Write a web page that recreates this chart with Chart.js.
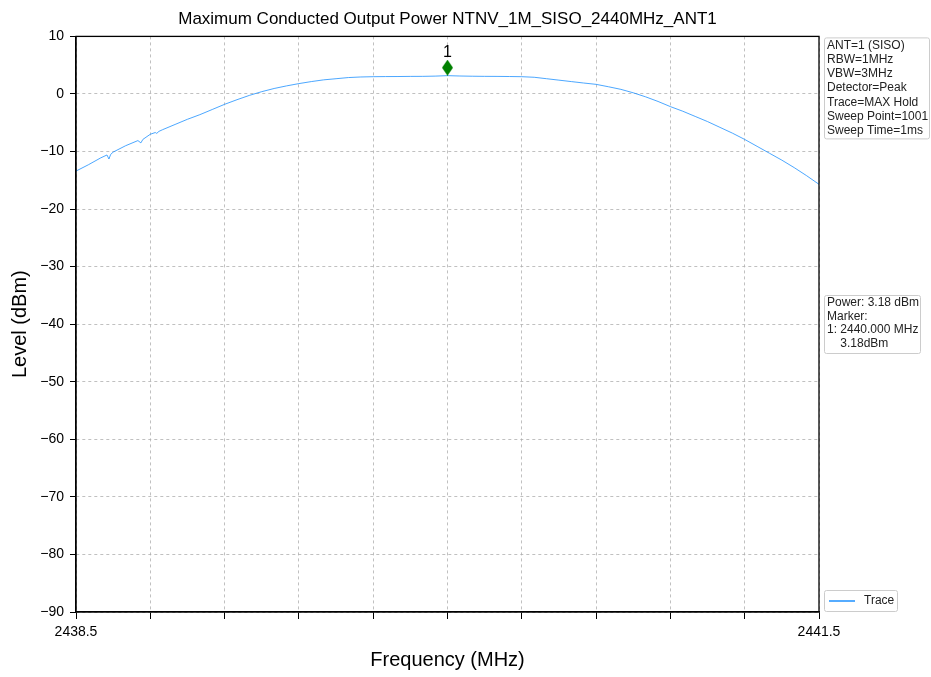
<!DOCTYPE html>
<html>
<head>
<meta charset="utf-8">
<title>Maximum Conducted Output Power</title>
<script src="https://cdn.jsdelivr.net/npm/chart.js@4.4.1/dist/chart.umd.min.js"></script>
<style>
  html, body { margin: 0; padding: 0; background: #fff; }
  #wrap { width: 931px; height: 677px; position: relative; }
</style>
</head>
<body>
<div id="wrap"><canvas id="myChart"></canvas></div>
<script>
// DATA

const freqMHz = [
  2438.5, 2438.55, 2438.6, 2438.625, 2438.633, 2438.64, 2438.65, 2438.7, 2438.75, 2438.762,
  2438.77, 2438.8, 2438.82, 2438.826, 2438.835, 2438.85, 2438.9, 2438.95, 2439.0, 2439.05,
  2439.1, 2439.15, 2439.2, 2439.25, 2439.3, 2439.35, 2439.4, 2439.45, 2439.5, 2439.55,
  2439.6, 2439.65, 2439.7, 2439.75, 2439.8, 2439.85, 2439.9, 2439.95, 2440.0, 2440.05,
  2440.1, 2440.15, 2440.2, 2440.25, 2440.3, 2440.35, 2440.4, 2440.45, 2440.5, 2440.55,
  2440.6, 2440.65, 2440.7, 2440.75, 2440.8, 2440.85, 2440.9, 2440.95, 2441.0, 2441.05,
  2441.1, 2441.15, 2441.2, 2441.25, 2441.3, 2441.35, 2441.4, 2441.45, 2441.5
];

const levelDbm = [
  -13.4, -12.3, -11.1, -10.6, -11.3, -10.5, -10.1, -9.0, -8.1, -8.5,
  -7.9, -7.0, -6.7, -6.85, -6.5, -6.2, -5.3, -4.4, -3.6, -2.7,
  -1.8, -1.0, -0.25, 0.4, 0.95, 1.4, 1.8, 2.15, 2.45, 2.65,
  2.85, 2.95, 3.0, 3.02, 3.03, 3.05, 3.06, 3.1, 3.18, 3.12,
  3.08, 3.06, 3.05, 3.03, 3.0, 2.9, 2.65, 2.4, 2.15, 1.9,
  1.67, 1.25, 0.8, 0.2, -0.5, -1.3, -2.2, -3.0, -3.9, -4.8,
  -5.8, -6.8, -7.9, -9.1, -10.3, -11.5, -12.8, -14.2, -15.7
];

const markerFreq = [2440.0];
const markerLevel = [4.57];
const markerLabels = ["1"];

const xTicks = [2438.5, 2438.8, 2439.1, 2439.4, 2439.7, 2440.0, 2440.3, 2440.6, 2440.9, 2441.2, 2441.5];

const infoLines = [
  "ANT=1 (SISO)",
  "RBW=1MHz",
  "VBW=3MHz",
  "Detector=Peak",
  "Trace=MAX Hold",
  "Sweep Point=1001",
  "Sweep Time=1ms"
];

const powerLines = [
  "Power: 3.18 dBm",
  "Marker:",
  "1: 2440.000 MHz",
  "    3.18dBm"
];

const chartTitle = "Maximum Conducted Output Power NTNV_1M_SISO_2440MHz_ANT1";
const legendLabel = "Trace";

const FONT = "'Liberation Sans', Arial, sans-serif";
const traceColor = "#1e90ff";

//MARKER SHAPE (tall diamond)

function makeDiamond(w, h, color) {
  const c = document.createElement("canvas");
  c.width = w;
  c.height = h;
  const g = c.getContext("2d");
  g.fillStyle = color;
  g.beginPath();
  g.moveTo(w / 2, 0);
  g.lineTo(w, h / 2);
  g.lineTo(w / 2, h);
  g.lineTo(0, h / 2);
  g.closePath();
  g.fill();
  return c;
}

//SIDE BOXES + FRAME

function drawBox(ctx, x, y, w, h, lines, lineGap) {
  ctx.save();
  ctx.fillStyle = "#fff";
  ctx.strokeStyle = "#cccccc";
  ctx.lineWidth = 1;
  ctx.beginPath();
  ctx.roundRect(x + 0.5, y + 0.5, w, h, 2);
  ctx.fill();
  ctx.stroke();
  ctx.fillStyle = "#222";
  ctx.font = "12px " + FONT;
  ctx.textBaseline = "middle";
  lines.forEach((t, i) => {
    ctx.fillText(t, x + 3, y + 8 + i * lineGap);
  });
  ctx.restore();
}

const extras = {
  id: "extras",
  afterDatasetsDraw(chart) {
    const ctx = chart.ctx;
    const xs = chart.scales.x;
    const ys = chart.scales.y;
    ctx.save();
    ctx.fillStyle = "#000";
    ctx.font = "16px " + FONT;
    ctx.textAlign = "center";
    ctx.textBaseline = "middle";
    markerLabels.forEach((t, i) => {
      ctx.fillText(t, xs.getPixelForValue(markerFreq[i]), ys.getPixelForValue(markerLevel[i]) - 15);
    });
    ctx.restore();
  },
  afterDraw(chart) {
    const ctx = chart.ctx;
    const a = chart.chartArea;
    ctx.save();
    ctx.strokeStyle = "#000";
    ctx.lineWidth = 1.3;
    ctx.strokeRect(a.left, a.top, a.right - a.left, a.bottom - a.top);
    ctx.restore();

    const bx = a.right + 5;
    drawBox(ctx, bx, a.top + 1, 105, 101, infoLines, 14.2);
    drawBox(ctx, bx, 295, 96, 58, powerLines, 13.5);

    // legend
    ctx.save();
    ctx.fillStyle = "#fff";
    ctx.strokeStyle = "#cccccc";
    ctx.lineWidth = 1;
    ctx.beginPath();
    ctx.roundRect(bx + 0.5, 590.5, 73, 21, 2);
    ctx.fill();
    ctx.stroke();
    ctx.strokeStyle = traceColor;
    ctx.lineWidth = 1.5;
    ctx.beginPath();
    ctx.moveTo(bx + 5, 601);
    ctx.lineTo(bx + 31, 601);
    ctx.stroke();
    ctx.fillStyle = "#222";
    ctx.font = "12px " + FONT;
    ctx.textBaseline = "middle";
    ctx.fillText(legendLabel, bx + 40, 601);
    ctx.restore();
  }
};

//CHART

function buildChart() {
  const ctx = document.getElementById("myChart").getContext("2d");

  const trace = freqMHz.map((f, i) => ({ x: f, y: levelDbm[i] }));
  const marker = markerFreq.map((f, i) => ({ x: f, y: markerLevel[i] }));

  new Chart(ctx, {
    type: "line",
    data: {
      datasets: [
        {
          label: legendLabel,
          data: trace,
          borderColor: traceColor,
          borderWidth: 0.8,
          pointRadius: 0,
          tension: 0,
          order: 2
        },
        {
          label: "Marker",
          data: marker,
          showLine: false,
          pointStyle: makeDiamond(11, 16, "#008000"),
          pointRadius: 8,
          order: 1
        }
      ]
    },
    options: {
      responsive: true,
      maintainAspectRatio: false,
      animation: false,
      layout: { padding: { right: 112, top: 0, left: 0, bottom: 0 } },
      plugins: {
        legend: { display: false },
        tooltip: { enabled: false },
        title: {
          display: true,
          fullSize: false,
          text: chartTitle,
          color: "#000",
          font: { family: FONT, size: 17, weight: "normal" },
          padding: { top: 9, bottom: 7 }
        }
      },
      scales: {
        x: {
          type: "linear",
          min: 2438.5,
          max: 2441.5,
          afterBuildTicks: (scale) => {
            scale.ticks = xTicks.map((v) => ({ value: v }));
          },
          afterFit: (scale) => {
            scale.height = 65;
          },
          ticks: {
            autoSkip: false,
            maxRotation: 0,
            color: "#000",
            padding: 5,
            font: { family: FONT, size: 14 },
            callback: (v, i, arr) => (i === 0 || i === arr.length - 1 ? v.toFixed(1) : "")
          },
          grid: {
            color: "#b0b0b0",
            lineWidth: 0.8,
            tickColor: "#000",
            tickLength: 7,
            tickWidth: 1
          },
          border: { display: true, color: "#000", width: 1.3, dash: [3, 3] },
          title: {
            display: true,
            text: "Frequency (MHz)",
            color: "#000",
            font: { family: FONT, size: 20 },
            padding: { top: 0, bottom: 5 }
          }
        },
        y: {
          min: -90,
          max: 10,
          afterFit: (scale) => {
            scale.width = 76;
          },
          ticks: {
            stepSize: 10,
            color: "#000",
            padding: 6,
            font: { family: FONT, size: 14 },
            callback: (v) => String(v).replace("-", "\u2212")
          },
          grid: {
            color: "#b0b0b0",
            lineWidth: 0.8,
            tickColor: "#000",
            tickLength: 6,
            tickWidth: 1
          },
          border: { display: true, color: "#000", width: 1.3, dash: [3, 3] },
          title: {
            display: true,
            text: "Level (dBm)",
            color: "#000",
            font: { family: FONT, size: 20 },
            padding: { top: 8, bottom: 0 }
          }
        }
      }
    },
    plugins: [extras]
  });
}

window.onload = () => {
  buildChart();
};
</script>
</body>
</html>
